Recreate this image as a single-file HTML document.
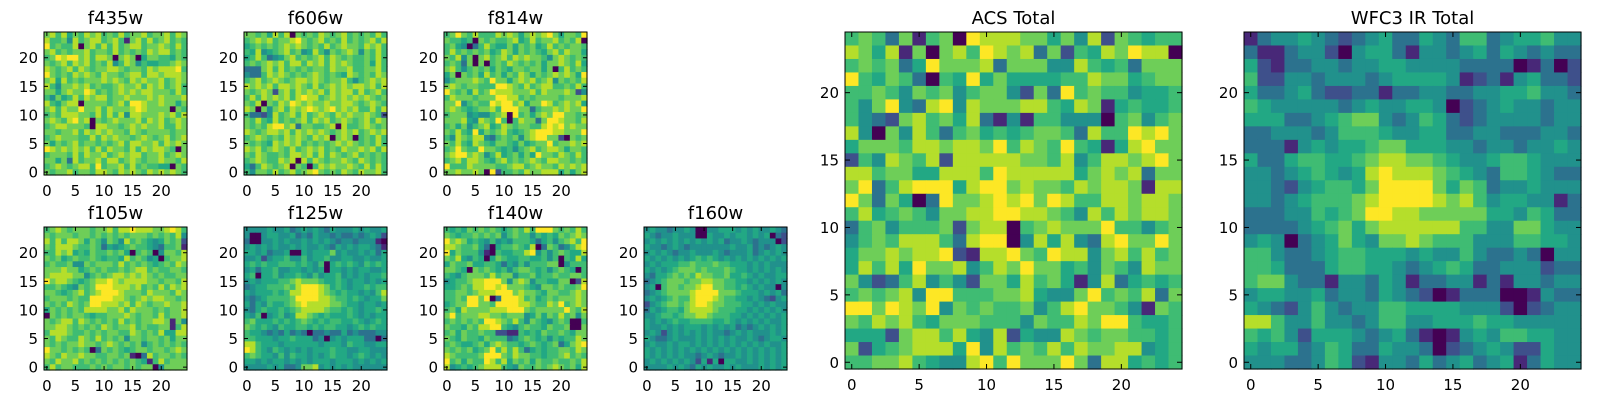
<!DOCTYPE html>
<html><head><meta charset="utf-8"><style>
html,body{margin:0;padding:0;background:#fff;}
svg{display:block;}
text{font-family:"DejaVu Sans","Liberation Sans",sans-serif;fill:#000;}
</style></head><body>
<svg id="fig" width="1600" height="400" viewBox="0 0 1600 400" xmlns="http://www.w3.org/2000/svg"></svg>
<script>
const tickValues = [0, 5, 10, 15, 20];
const panelTitles = ["f435w","f606w","f814w","f105w","f125w","f140w","f160w","ACS Total","WFC3 IR Total"];
const f435w = ["7868576878676867786778687","8667486788678617868678676","9676680786868678867787686","7867677867768676768788676","6798997868870787057766576","7678687867684687465566787","8767868767788767768788896","9767687876877678868878887","7858676777878768787786787","8647787867667877868786786","7757877986767878788777686","6475686878867787778787778","8657880777767869987787757","7868779778687778987777076","6768887768686848877787868","7876897807678777868786787","6788777608877678787786687","7767786878787768767777677","6787776686878776787678678","7576786776767868877868787","9878787868687768687887607","6777686877867878867786787","7757386778688678767787768","6787678869677868676655076","7677867768876878768787876"];
const f606w = ["7767586807676876786767686","6787867789767867686767868","5676767878767686787768786","6584567867458647678747686","5686345786767868767667686","6767878688687868787667586","3337868676767768778667786","4336878767678767658767687","6786787678878767786467878","8787868878768678787887868","7678727868787868788686786","6868787868988678787878767","7680768798787787788767876","8707478687898789787866868","6332486786867876878778762","7686586767868786787678687","7676899783776678086678767","8767887868787876787867878","6787676878768780787067686","7676587878676767878767686","8786787686787867687787868","7687667688786868767867676","6787668780868767787687676","5368767807606878778768686","6477686786789767687687786"];
const f814w = ["6797686668787578789757769","7665607676678568677867680","6754036865575767568676776","6867676756875767657868775","7684707867868787764787676","6763707067687676757787685","7864676757657767757068676","5707675867576875767878759","4677787697757878678476768","7876776669987686788667686","9767586798887778687778724","6877767779988676777767778","7794676698997857798678785","7876567786999773677878779","6777454467809675787997767","7778548769606877379987768","6757467856876776689897877","7686595767865678999887779","6487688436767478997720767","7686587657765756779677878","6797669776564678678875776","7899787468567575977687686","6786887657867678768877676","9666877776678867877687878","7787787092667687788857578"];
const f105w = ["6787677767786889888778986","7677767767676767776767684","8686887576476486765457672","7688876676354567665436671","6687856576676750676047768","7675676676566586764506778","6766744767776867676567687","7778775676766767886766776","7888877467678878787676677","9788765678898788887767768","6676547679998887867686878","7765678678999877768777687","6777676699998876787887767","7676876799888786876778778","5767676888877868777676778","0767677656677787677686778","7678868767676867677887174","7788767676876778676677168","6888766767677668767685588","7687668768676747767767577","7676778776787676746767676","9776767603767656776776787","8768778776677671038677676","7687786767676767651686777","6867766676767767677047777"];
const f125w = ["4444544534545435444545445","4004554453435443433434542","3004454544545454344344410","4545454454544543545455431","5545344500545557454454535","4452455644645564455445445","5656556665654605656546565","4535564455454505545455445","5605564556546455645454556","4545556678777655654554545","3455666768999875654556566","5455565688999876565545468","4345666679999887665654557","5354655678988887765545545","4356556567888876656545565","5460456458876565556545455","6755565656765656655654565","7656546556656566554565655","6554343534303343353433344","6655545565553404545553303","8865554555555455546554455","9865465454545556554455444","6765546465545456554565454","5545455454545554555454545","4444545334778454545444444"];
const f140w = ["6565767676567686999767686","7656676767467664656576787","9787565464546665356467869","8876675305667658037634689","9576664106556689464676558","7685465057655665564606585","5766755665354646667704666","7765076765646776564676506","6546777686774667566766776","4566788999747874665577028","5567688998977765477676679","6677678889997877657766787","6676997903999867567677787","5677997769999887668796787","6758777788899976777779768","7967778877677745757686747","6767676998768647654676006","7665768899654676657667007","6757667662211656576676577","7657665766634676564656687","6765567578766567656735789","7676756796868635656677687","8766667999768776656678676","9675766986857675766766768","8456567888654766767876758"];
const f160w = ["4544344540044555454544543","5434454440054454554545032","4545454545454534454344402","5443454344444445445343454","4545434454445434445345454","5454545456565454545454545","4545556676667665554545444","5454567776766676554545454","4355676768776675565454455","3456777677887766554545454","4506776778997766565454404","3456777789999777655545453","4545676689998766554543245","2456776789987766655454544","3545665788887666554545454","4456656778876665545454545","5454565566665565454545445","5445454555454545343454545","4542454545454434545444545","5433454445454545445434554","4544545545454545454545445","5454545454545454545454545","5454545443454344545454545","4545454542515055445454545","4444545435454454544454545"];
const acsTotal = ["6763716709888775748276566","8758170786987837265879880","6767359777837774486563777","9657630659575555668775677","6676476746774273967664556","6479438948777886587156556","6432786758314166444067467","8407486367565677638669897","5777688788796876965158977","2648768288888776846887897","8867755888698888857878377","7936899958997877687887188","9737503977898979866887887","6856764778899887648687887","3674666727880678777966467","4676888638990485843897797","5778788921889769884786867","5868597784687977564764877","7423684642775867514835656","6767849966677854479676837","9979879476766746897764176","7687865777666476687996556","5552788685482544876776656","7256788859486768687788456","6677865448969777973885656"];
const wfc3Total = ["1344543234533543663455644","3113442045531443453543433","5213344344554444333301302","6224434443455554123145332","5334532233133443344556443","6544444345445540234544344","5553345677434653234444344","3344434666544553344333443","3331454556775554434434454","5335665567887765445665444","4434565458988876543665433","4432456657999975763445444","4434566678999987864554413","3334465679988777775546533","3333456757888888664477544","4540345754778766644466554","6643345665554544643343044","6653335665543456533444233","6774331443541334413144344","4554453443543201333001433","5432464344665555444202344","8864464434664455565544444","6564255543453101454665544","5455346533544302345422544","4443346521443534534513544"];
const panelData = [f435w,f606w,f814w,f105w,f125w,f140w,f160w,acsTotal,wfc3Total];
const panelX = [44,244,444,44,244,444,644,845,1244];
const panelY = [32,32,32,227,227,227,227,32,32];
const panelSize = [143,143,143,143,143,143,143,337,337];
const vir = [[68,1,84],[72,40,120],[62,80,139],[44,114,142],[33,145,140],[34,168,132],[63,188,115],[110,206,88],[181,222,43],[253,231,37]];
const NS = "http://www.w3.org/2000/svg";
const svg = document.getElementById("fig");
function mk(tag, attrs, parent){const e=document.createElementNS(NS,tag);for(const k in attrs)e.setAttribute(k,attrs[k]);(parent||svg).appendChild(e);return e;}
function color(l){const c=vir[Math.max(0,Math.min(9,l))];return "rgb("+c[0]+","+c[1]+","+c[2]+")";}
function row(s){s=(s||"");while(s.length<25)s+="6";return s.slice(0,25);}
panelData.forEach((data,p)=>{
  const x0=panelX[p], y0=panelY[p], S=panelSize[p], n=25, cw=S/n;
  const big = S>200;
  const xs = v => x0 + (v+0.5)*cw;
  const ys = v => y0 + S - (v+0.5)*cw;
  const g = mk("g",{});
  
  
  for(let r=0;r<n;r++){
    const str=row(data[r]); const yv=n-1-r;
    for(let c=0;c<n;c++){
      const cell = mk("rect",{x:(xs(c)-cw/2).toFixed(2),y:(ys(yv)-cw/2).toFixed(2),width:(cw+0.6).toFixed(2),height:(cw+0.6).toFixed(2),fill:color(+str[c])},g);
      
      
    }
  }
  const fr = mk("rect",{x:x0,y:y0,width:S,height:S,fill:"none",stroke:"#000","stroke-width":1},g);
  
  
  const tl = big?5:4;
  tickValues.forEach(v=>{
    const tx=xs(v), ty=ys(v);
    mk("line",{x1:tx,y1:y0+S,x2:tx,y2:y0+S-tl,stroke:"#000"},g);
    mk("line",{x1:tx,y1:y0,x2:tx,y2:y0+tl,stroke:"#000"},g);
    mk("line",{x1:x0,y1:ty,x2:x0+tl,y2:ty,stroke:"#000"},g);
    mk("line",{x1:x0+S,y1:ty,x2:x0+S-tl,y2:ty,stroke:"#000"},g);
    const xl = mk("text",{x:tx,y:y0+S+21,"text-anchor":"middle","font-size":15},g);
    xl.textContent=v;
    
    
    const yl = mk("text",{x:x0-6,y:ty+5.5,"text-anchor":"end","font-size":15},g);
    yl.textContent=v;
    
    
  });
  const t = mk("text",{x:x0+S/2,y:y0-8,"text-anchor":"middle","font-size":18},g);
  t.textContent=panelTitles[p];
  
  
});
</script>
</body></html>
